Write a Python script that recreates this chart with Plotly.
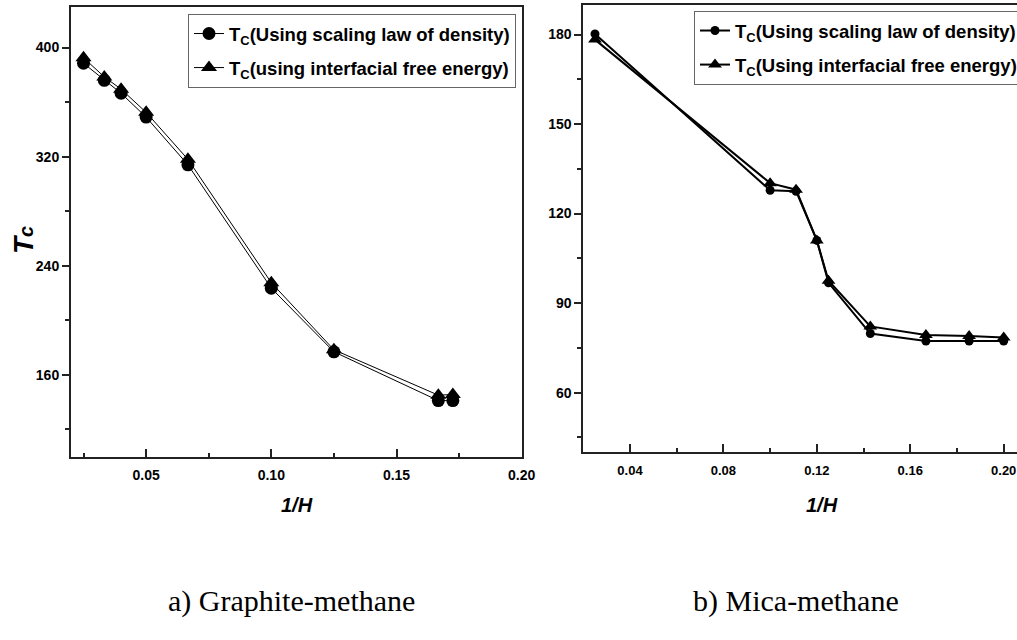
import plotly.graph_objects as go

# ---- data ----
inv_h_graphite = [0.025, 0.0333, 0.04, 0.05, 0.0667, 0.1, 0.125, 0.1667, 0.1725]
tc_graphite_density = [388.5, 376, 366.5, 349, 314, 223.5, 176.8, 141, 141]
tc_graphite_interfacial = [392.5, 378.5, 369.5, 352.5, 318, 227.5, 178.3, 145, 145.5]

inv_h_mica = [0.025, 0.1, 0.1111, 0.12, 0.125, 0.1429, 0.1667, 0.1852, 0.2]
tc_mica_density = [180.2, 127.8, 127.5, 111, 96.8, 79.8, 77.3, 77.3, 77.3]
tc_mica_interfacial = [178.3, 130.2, 128, 111, 97.5, 82.2, 79.3, 79, 78.5]

legend_left = ["T<sub>C</sub>(Using scaling law of density)",
               "T<sub>C</sub>(using interfacial free energy)"]
legend_right = ["T<sub>C</sub>(Using scaling law of density)",
                "T<sub>C</sub>(Using interfacial free energy)"]
captions = ["a) Graphite-methane", "b) Mica-methane"]

W, H = 1017, 640
SANS = "Liberation Sans, Arial, sans-serif"
SERIF = "Liberation Serif, Times New Roman, serif"

def px(x):
    return x / W

def py(y):
    return 1 - y / H

fig = go.Figure()

# left panel
fig.add_trace(go.Scatter(x=inv_h_graphite, y=tc_graphite_density, mode="lines+markers",
                         name=legend_left[0], legend="legend", legendgroup="a1",
                         line=dict(color="black", width=1),
                         marker=dict(symbol="circle", size=13, color="black"),
                         xaxis="x", yaxis="y"))
fig.add_trace(go.Scatter(x=inv_h_graphite, y=tc_graphite_interfacial, mode="lines+markers",
                         name=legend_left[1], legend="legend", legendgroup="a2",
                         line=dict(color="black", width=1),
                         marker=dict(symbol="triangle-up", size=14, color="black"),
                         xaxis="x", yaxis="y"))
# right panel
fig.add_trace(go.Scatter(x=inv_h_mica, y=tc_mica_density, mode="lines+markers",
                         name=legend_right[0], legend="legend2", legendgroup="b1",
                         line=dict(color="black", width=2),
                         marker=dict(symbol="circle", size=9, color="black"),
                         xaxis="x2", yaxis="y2"))
fig.add_trace(go.Scatter(x=inv_h_mica, y=tc_mica_interfacial, mode="lines+markers",
                         name=legend_right[1], legend="legend2", legendgroup="b2",
                         line=dict(color="black", width=2),
                         marker=dict(symbol="triangle-up", size=12, color="black"),
                         xaxis="x2", yaxis="y2"))

def axis_style(size):
    return dict(showline=True, linecolor="#222", linewidth=2, showgrid=False,
                zeroline=False, tickcolor="#222", tickwidth=1.5,
                tickfont=dict(family=SANS, size=size, color="black", weight="bold"))

fig.update_layout(
    width=W, height=H,
    margin=dict(l=0, r=0, t=0, b=0, autoexpand=False),
    paper_bgcolor="white", plot_bgcolor="white",
    showlegend=True,
    xaxis=dict(domain=[px(71), px(521.7)], range=[0.02, 0.2], anchor="y",
               dtick=0.05, tick0=0, tickformat=".2f", ticks="inside", ticklen=8,
               minor=dict(ticks="inside", ticklen=4, dtick=0.025, tick0=0, tickcolor="#222"),
               mirror=True, ticklabelstandoff=5, **axis_style(14)),
    yaxis=dict(domain=[py(456.5), py(6.7)], range=[100, 430], anchor="x",
               dtick=80, tick0=0, ticks="outside", ticklen=7,
               minor=dict(ticks="outside", ticklen=4, dtick=40, tick0=0, tickcolor="#222"),
               mirror=True, **axis_style(14)),
    xaxis2=dict(domain=[px(583.3), 1.0], range=[0.02, 0.2057], anchor="y2",
                dtick=0.04, tick0=0, tickformat=".2f", ticks="inside", ticklen=8,
                minor=dict(ticks="inside", ticklen=4, dtick=0.02, tick0=0, tickcolor="#222"),
                mirror=True, ticklabelstandoff=5, **axis_style(13)),
    yaxis2=dict(domain=[py(452.3), py(4.7)], range=[40, 190], anchor="x2",
                dtick=30, tick0=0, ticks="outside", ticklen=7,
                minor=dict(ticks="outside", ticklen=4, dtick=15, tick0=0, tickcolor="#222"),
                mirror=False, **axis_style(14)),
    legend=dict(x=px(188), y=py(14), xanchor="left", yanchor="top",
                bgcolor="white", bordercolor="#666", borderwidth=1,
                font=dict(family=SANS, size=18.5, color="black", weight="bold"),
                traceorder="grouped", tracegroupgap=7),
    legend2=dict(x=px(694), y=py(11), xanchor="left", yanchor="top",
                 bgcolor="white", bordercolor="#666", borderwidth=1,
                 font=dict(family=SANS, size=18.5, color="black", weight="bold"),
                 traceorder="grouped", tracegroupgap=7),
)

annotations = [
    dict(text="<b><i>T<span style='font-size:20px'>c</span></i></b>", x=px(23), y=py(240),
         xref="paper", yref="paper", xanchor="center", yanchor="middle",
         showarrow=False, textangle=-90,
         font=dict(family=SANS, size=28, color="black")),
    dict(text="<b><i>1/H</i></b>", x=px(297), y=py(505), xref="paper", yref="paper",
         xanchor="center", yanchor="middle",
         showarrow=False, font=dict(family=SANS, size=20, color="black")),
    dict(text="<b><i>1/H</i></b>", x=px(822), y=py(505), xref="paper", yref="paper",
         xanchor="center", yanchor="middle",
         showarrow=False, font=dict(family=SANS, size=20, color="black")),
    dict(text=captions[0], x=px(291), y=py(601), xref="paper", yref="paper",
         xanchor="center", yanchor="middle",
         showarrow=False, font=dict(family=SERIF, size=30, color="black")),
    dict(text=captions[1], x=px(796), y=py(601), xref="paper", yref="paper",
         xanchor="center", yanchor="middle",
         showarrow=False, font=dict(family=SERIF, size=30, color="black")),
]
fig.update_layout(annotations=annotations)

fig.write_html("out.html")
